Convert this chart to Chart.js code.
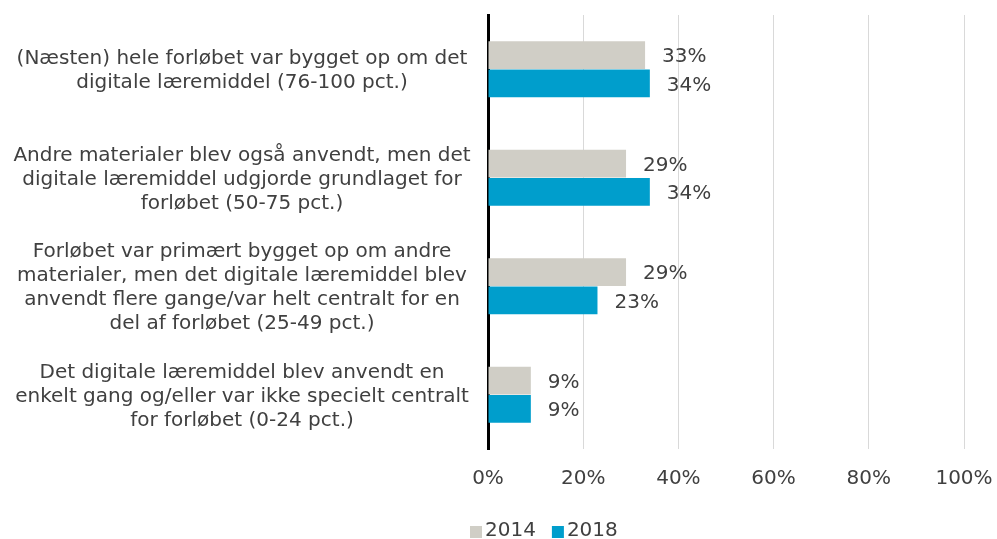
<!DOCTYPE html>
<html>
<head>
<meta charset="utf-8">
<script src="https://cdn.jsdelivr.net/npm/chart.js@4"></script>
<style>
  html, body { margin: 0; padding: 0; background: #fff; }
  #wrap { width: 997px; height: 539px; }
</style>
</head>
<body>
<div id="wrap"><canvas id="chart" width="997" height="539"></canvas></div>
<script>
// kategorier (flere linjer pr. label)
const categories = [
    ['(Næsten) hele forløbet var bygget op om det', 'digitale læremiddel (76-100 pct.)'],
    ['Andre materialer blev også anvendt, men det', 'digitale læremiddel udgjorde grundlaget for', 'forløbet (50-75 pct.)'],
    ['Forløbet var primært bygget op om andre', 'materialer, men det digitale læremiddel blev', 'anvendt flere gange/var helt centralt for en', 'del af forløbet (25-49 pct.)'],
    ['Det digitale læremiddel blev anvendt en', 'enkelt gang og/eller var ikke specielt centralt', 'for forløbet (0-24 pct.)']
];
const values2014 = [33, 29, 29, 9];
const values2018 = [34, 34, 23, 9];
const xTicks = [0, 20, 40, 60, 80, 100];

const textColor = '#404040';
const fontFamily = '"DejaVu Sans", Verdana, sans-serif';
const fontSize = 20;

// værdier ved siden af søjlerne
const valueLabels = {
    id: 'valueLabels',
    afterDatasetsDraw(chart) {
        const ctx = chart.ctx;
        ctx.save();
        ctx.font = fontSize + 'px ' + fontFamily;
        ctx.fillStyle = textColor;
        ctx.textAlign = 'left';
        ctx.textBaseline = 'middle';
        chart.data.datasets.forEach((ds, i) => {
            chart.getDatasetMeta(i).data.forEach((bar, j) => {
                ctx.fillText(ds.data[j] + '%', bar.x + 17, bar.y + 2);
            });
        });
        ctx.restore();
    }
};

// kategoritekster, centreret til venstre for aksen
const categoryLabels = {
    id: 'categoryLabels',
    afterDraw(chart) {
        const ctx = chart.ctx;
        const yScale = chart.scales.y;
        const lineH = 24;
        ctx.save();
        ctx.font = fontSize + 'px ' + fontFamily;
        ctx.fillStyle = textColor;
        ctx.textAlign = 'center';
        ctx.textBaseline = 'middle';
        categories.forEach((lines, i) => {
            const cy = yScale.getPixelForValue(i) + 2;
            const y0 = cy - (lines.length - 1) * lineH / 2;
            lines.forEach((line, k) => ctx.fillText(line, 242, y0 + k * lineH));
        });
        ctx.restore();
    }
};

// legende under diagrammet
const bottomLegend = {
    id: 'bottomLegend',
    afterDraw(chart) {
        const ctx = chart.ctx;
        const y = 531;
        let x = 470;
        ctx.save();
        ctx.font = fontSize + 'px ' + fontFamily;
        ctx.textAlign = 'left';
        ctx.textBaseline = 'middle';
        chart.data.datasets.forEach(ds => {
            ctx.fillStyle = ds.backgroundColor;
            ctx.fillRect(x, y - 5, 12, 12);
            ctx.fillStyle = textColor;
            ctx.fillText(ds.label, x + 15, y);
            x += 15 + ctx.measureText(ds.label).width + 16;
        });
        ctx.restore();
    }
};

new Chart(document.getElementById('chart').getContext('2d'), {
    type: 'bar',
    data: {
        labels: categories,
        datasets: [{
            label: '2014',
            data: values2014,
            backgroundColor: '#D0CEC6',
            categoryPercentage: 0.52,
            barPercentage: 0.98
        }, {
            label: '2018',
            data: values2018,
            backgroundColor: '#009ECC',
            categoryPercentage: 0.52,
            barPercentage: 0.98
        }]
    },
    options: {
        indexAxis: 'y',
        responsive: false,
        animation: false,
        layout: {
            padding: { top: 15, right: 33, left: 0, bottom: 30 }
        },
        scales: {
            x: {
                min: 0,
                max: 100,
                afterBuildTicks(axis) {
                    axis.ticks = xTicks.map(v => ({ value: v }));
                },
                afterFit(axis) {
                    axis.paddingLeft = 0;
                    axis.paddingRight = 0;
                },
                grid: { color: '#D9D9D9', lineWidth: 1, drawTicks: false },
                border: { display: false },
                ticks: {
                    color: textColor,
                    font: { size: fontSize, family: fontFamily },
                    padding: 18,
                    callback: v => v + '%'
                }
            },
            y: {
                afterFit(axis) { axis.width = 488; },
                grid: { display: false, drawTicks: false },
                border: { display: true, color: '#000', width: 3 },
                ticks: { display: false }
            }
        },
        plugins: {
            legend: { display: false },
            tooltip: { enabled: false }
        }
    },
    plugins: [valueLabels, categoryLabels, bottomLegend]
});
</script>
</body>
</html>
